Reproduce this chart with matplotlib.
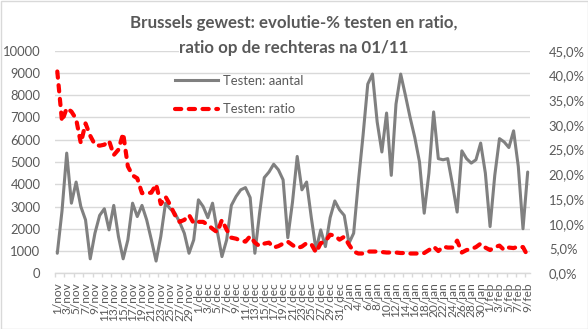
import matplotlib
matplotlib.use("Agg")
import matplotlib.pyplot as plt
import numpy as np
import pandas as pd
from matplotlib.patches import Rectangle
from matplotlib.lines import Line2D

plt.rcParams['font.family'] = ['Lato', 'DejaVu Sans']

# ---- data -------------------------------------------------------------
dates = pd.date_range("2020-11-01", "2021-02-09", freq="D")
maand = {11: "nov", 12: "dec", 1: "jan", 2: "feb"}
categories = [f"{d.day}/{maand[d.month]}" for d in dates]

testen_aantal = [
    900, 2800, 5400, 3150, 4100, 3000, 2400, 650, 1800, 2600,
    2900, 1950, 3050, 1650, 650, 1500, 3150, 2550, 3050, 2400,
    1500, 550, 1650, 3150, 2900, 2700, 2300, 1800, 900, 1500,
    3300, 3000, 2500, 3150, 1900, 750, 1500, 3050, 3450, 3750,
    3850, 3400, 900, 2700, 4300, 4550, 4900, 4650, 4200, 1600,
    3200, 5250, 3750, 4100, 2500, 1050, 1950, 1200, 2500, 3250,
    2850, 2600, 1350, 1800, 4100, 6200, 8500, 8950, 6800, 5450,
    7200, 4400, 7600, 8950, 8000, 7000, 6100, 5000, 2700, 4500,
    7250, 5150, 5100, 5150, 4000, 2750, 5500, 5150, 4950, 5100,
    5850, 4500, 2100, 4400, 6050, 5900, 5650, 6400, 4800, 2000,
    4550,
]

testen_ratio = [  # percent
    40.8, 30.7, 33.4, 32.7, 31.2, 26.3, 30.3, 27.8, 26.0, 25.8,
    26.0, 26.8, 23.9, 25.0, 28.3, 21.6, 19.8, 19.2, 16.2, 16.2,
    16.3, 18.0, 14.0, 15.5, 13.8, 11.8, 10.4, 10.8, 11.8, 10.1,
    10.4, 10.4, 9.8, 9.0, 8.3, 10.8, 8.8, 7.2, 7.0, 6.6,
    6.4, 7.5, 6.2, 5.5, 6.0, 6.2, 5.2, 5.5, 6.0, 6.4,
    5.7, 5.1, 5.4, 6.1, 5.9, 4.2, 6.1, 6.5, 7.8, 7.6,
    6.8, 7.4, 5.8, 4.4, 4.0, 4.0, 4.4, 4.4, 4.4, 4.3,
    4.2, 4.2, 4.2, 4.1, 4.1, 4.0, 4.0, 4.0, 4.1, 4.7,
    5.4, 4.5, 5.4, 5.2, 5.2, 6.6, 4.2, 4.7, 4.9, 5.3,
    6.0, 5.2, 4.7, 5.3, 5.6, 4.7, 5.2, 5.1, 5.4, 5.3,
    3.5,
]

left_ticks = list(range(0, 10001, 1000))
right_ticks = list(range(0, 46, 5))

title_line1 = "Brussels gewest: evolutie-% testen en ratio,"
title_line2 = "ratio op de rechteras na 01/11"
label_aantal = "Testen: aantal"
label_ratio = "Testen: ratio"

# ---- styling -------------------------------------------------------------
W, H = 588, 329
TXT = "#595959"
GRID = "#D9D9D9"
GRAY = "#808080"
RED = "#FF0000"
FS = 9.4
XFS = 8.6

fig = plt.figure(figsize=(W / 100, H / 100), dpi=100)
ax_l, ax_r, ax_t, ax_b = 54.95, 530.05, 50.7, 273.3
ax = fig.add_axes([ax_l / W, 1 - ax_b / H, (ax_r - ax_l) / W, (ax_b - ax_t) / H])
ax2 = ax.twinx()

x = np.arange(len(categories))
ax.plot(x, testen_aantal, color=GRAY, lw=2.2, solid_joinstyle='round',
        solid_capstyle='round', zorder=3)
ax2.plot(x, testen_ratio, color=RED, lw=3.0, dashes=(1.5, 1.8),
         dash_capstyle='round', dash_joinstyle='round', zorder=3)

ax.set_xlim(-0.5, len(categories) - 0.5)
ax.set_ylim(0, 10000)
ax2.set_ylim(0, 45)

ax.set_yticks(left_ticks)
ax.set_yticklabels([str(v) for v in left_ticks])
ax2.set_yticks(right_ticks)
ax2.set_yticklabels([f"{v:.1f}%".replace('.', ',') for v in right_ticks])

ax.grid(axis='y', color=GRID, lw=1.0)
ax.set_axisbelow(True)

ax.set_xticks(x[::2])
ax.set_xticklabels(categories[::2], rotation=90, va='top', ha='center')
ax.set_xticks(np.arange(-0.5, len(categories), 2), minor=True)
ax.tick_params(axis='x', which='major', length=0, pad=6.5, labelsize=XFS, labelcolor=TXT)
ax.tick_params(axis='x', which='minor', length=3, width=1, color=GRID, direction='out')
ax.tick_params(axis='y', length=0, pad=10.5, labelsize=FS, labelcolor=TXT)
ax2.tick_params(axis='y', length=0, pad=13.5, labelsize=FS, labelcolor=TXT)

for s in ['left', 'right', 'top']:
    ax.spines[s].set_visible(False)
ax.spines['bottom'].set_color(GRID)
ax.spines['bottom'].set_linewidth(1.0)
for s in ax2.spines.values():
    s.set_visible(False)

handles = [Line2D([], [], color=GRAY, lw=2.2),
           Line2D([], [], color=RED, lw=3.0, dashes=(1.5, 1.8), dash_capstyle='round')]
ax2.legend(handles, [label_aantal, label_ratio], loc='upper left',
           bbox_to_anchor=(175 / W, 1 - 75 / H), bbox_transform=fig.transFigure,
           frameon=False, fontsize=FS, labelcolor=TXT, handlelength=3.3,
           handletextpad=0.35, labelspacing=1.25, borderpad=0, borderaxespad=0)

fig.text(294 / W, 1 - 28 / H, title_line1, ha='center', va='baseline',
         fontsize=12.2, fontweight='bold', color=TXT)
fig.text(294 / W, 1 - 52.5 / H, title_line2, ha='center', va='baseline',
         fontsize=12.2, fontweight='bold', color=TXT,
         bbox=dict(facecolor='white', edgecolor='none', pad=0.5))

fig.patches.append(Rectangle((0.5 / W, 0.5 / H), 1 - 1 / W, 1 - 1 / H,
                             transform=fig.transFigure, fill=False,
                             edgecolor=GRID, lw=1.0))

fig.savefig("out.png", dpi=100)
